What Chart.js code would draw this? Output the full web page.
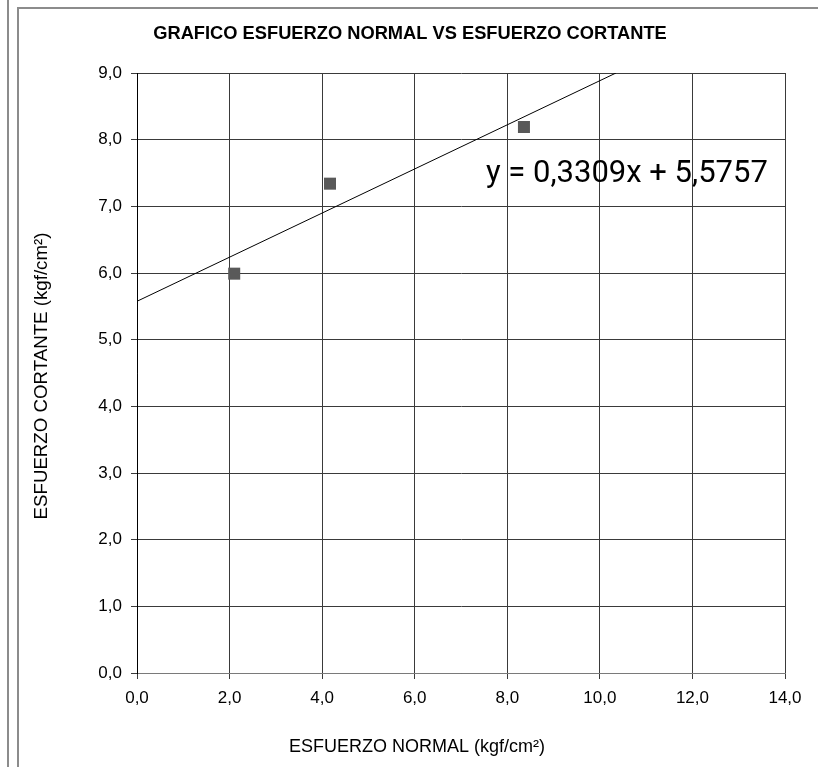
<!DOCTYPE html>
<html><head><meta charset="utf-8">
<script src="https://cdn.jsdelivr.net/npm/chart.js@4.4.0/dist/chart.umd.min.js"></script>
<style>
html,body{margin:0;padding:0;background:#fff;}
#wrap{position:relative;width:818px;height:767px;overflow:hidden;background:#fff;}
canvas{position:absolute;left:0;top:0;}
.ln{position:absolute;background:#8c8c8c;}
</style></head><body>
<div id="wrap">
<canvas id="c" width="818" height="767"></canvas>
<div class="ln" style="left:7px;top:0;width:2px;height:767px"></div>
<div class="ln" style="left:17px;top:7px;width:2px;height:760px"></div>
<div class="ln" style="left:17px;top:7px;width:801px;height:2px"></div>
</div>
<script>
// ---- data ----
const normalStress = [2.10, 4.17, 8.36];      // x: ESFUERZO NORMAL
const shearStress  = [5.99, 7.34, 8.19];      // y: ESFUERZO CORTANTE
const trendSlope = 0.3309;
const trendIntercept = 5.5757;
const trendX = [0, 10.35];
const xTickLabels = ['0,0','2,0','4,0','6,0','8,0','10,0','12,0','14,0'];
const yTickLabels = ['0,0','1,0','2,0','3,0','4,0','5,0','6,0','7,0','8,0','9,0'];
const chartTitle = 'GRAFICO ESFUERZO NORMAL VS ESFUERZO CORTANTE';
const xTitle = 'ESFUERZO NORMAL (kgf/cm²)';
const yTitle = 'ESFUERZO CORTANTE (kgf/cm²)';
const equationText = 'y = 0,3309x + 5,5757';
const eqAnchor = {x: 7.54, y: 7.365};

const FONT = '"Liberation Sans", Arial, sans-serif';

const pts = normalStress.map((x, i) => ({x: x, y: shearStress[i]}));
const trendPts = trendX.map(x => ({x: x, y: trendSlope * x + trendIntercept}));

const textPlugin = {
  id: 'texts',
  afterDraw(chart) {
    const ctx = chart.ctx;
    const xs = chart.scales.x, ys = chart.scales.y;
    ctx.save();
    ctx.fillStyle = '#000';
    // chart title
    ctx.font = 'bold 18.3px ' + FONT;
    ctx.textAlign = 'center';
    ctx.textBaseline = 'middle';
    ctx.fillText(chartTitle, 410, 34);
    // x axis title
    ctx.font = '18px ' + FONT;
    ctx.fillText(xTitle, 417, 747);
    // y axis title
    ctx.save();
    ctx.font = '18.7px ' + FONT;
    ctx.translate(42, 376);
    ctx.rotate(-Math.PI / 2);
    ctx.fillText(yTitle, 0, 0);
    ctx.restore();
    // equation
    ctx.font = '31px Roboto, ' + FONT;
    ctx.textAlign = 'left';
    ctx.textBaseline = 'alphabetic';
    ctx.fillText(equationText, xs.getPixelForValue(eqAnchor.x), ys.getPixelForValue(eqAnchor.y));
    ctx.restore();
  }
};

new Chart(document.getElementById('c'), {
  type: 'scatter',
  data: {
    datasets: [
      {
        label: 'Datos',
        data: pts,
        pointStyle: 'rect',
        pointRadius: 8.5,
        pointHoverRadius: 8.5,
        backgroundColor: '#595959',
        borderColor: '#595959',
        borderWidth: 0,
        showLine: false
      },
      {
        label: 'Tendencia',
        data: trendPts,
        showLine: true,
        pointRadius: 0,
        borderColor: '#000',
        borderWidth: 1,
        backgroundColor: '#000'
      }
    ]
  },
  options: {
    responsive: false,
    animation: false,
    devicePixelRatio: 1,
    layout: { padding: { left: 0, right: 33, top: 73, bottom: 0 } },
    plugins: { legend: { display: false }, tooltip: { enabled: false }, title: { display: false } },
    scales: {
      x: {
        type: 'linear',
        min: 0, max: 14,
        afterFit(s) { s.height = 94; },
        afterBuildTicks(s) { s.ticks = xTickLabels.map((_, i) => ({value: i * 2})); },
        ticks: {
          padding: 9,
          color: '#000',
          font: { family: FONT, size: 17 },
          maxRotation: 0,
          autoSkip: false,
          callback: (v, i) => xTickLabels[i]
        },
        grid: { color: '#3a3a3a', lineWidth: 1, tickLength: 6, drawTicks: true },
        border: { display: true, color: '#7a7a7a', width: 1 }
      },
      y: {
        type: 'linear',
        min: 0, max: 9,
        afterFit(s) { s.width = 137; },
        afterBuildTicks(s) { s.ticks = yTickLabels.map((_, i) => ({value: i})); },
        ticks: {
          padding: 9,
          color: '#000',
          font: { family: FONT, size: 17 },
          autoSkip: false,
          callback: (v, i) => yTickLabels[i]
        },
        grid: { color: '#3a3a3a', lineWidth: 1, tickLength: 6, drawTicks: true },
        border: { display: true, color: '#000', width: 1 }
      }
    }
  },
  plugins: [textPlugin]
});
</script>
</body></html>
